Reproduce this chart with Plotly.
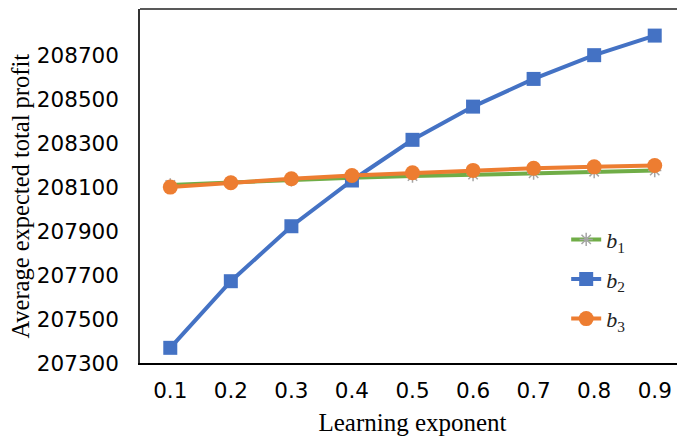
import plotly.graph_objects as go

exponents = ["0.1", "0.2", "0.3", "0.4", "0.5", "0.6", "0.7", "0.8", "0.9"]
b1_profit = [208110, 208122, 208133, 208143, 208150, 208157, 208163, 208170, 208175]
b2_profit = [207369, 207672, 207922, 208130, 208315, 208466, 208592, 208700, 208789]
b3_profit = [208100, 208120, 208138, 208153, 208165, 208176, 208186, 208192, 208198]
y_ticks = [207300, 207500, 207700, 207900, 208100, 208300, 208500, 208700, 208900]

fig = go.Figure()

fig.add_trace(go.Scatter(
    x=exponents, y=b1_profit, mode="lines+markers",
    name="<i>b</i><sub>1</sub>", legendgroup="b1",
    line=dict(color="#70AD47", width=4),
    marker=dict(symbol="asterisk-open", size=11, color="#A5A5A5",
                line=dict(color="#A5A5A5", width=1.5))
))
fig.add_trace(go.Scatter(
    x=exponents, y=b2_profit, mode="lines+markers",
    name="<i>b</i><sub>2</sub>", legendgroup="b2",
    line=dict(color="#4472C4", width=4),
    marker=dict(symbol="square", size=14, color="#4472C4")
))
fig.add_trace(go.Scatter(
    x=exponents, y=b3_profit, mode="lines+markers",
    name="<i>b</i><sub>3</sub>", legendgroup="b3",
    line=dict(color="#ED7D31", width=4),
    marker=dict(symbol="circle", size=15, color="#ED7D31")
))

# top border of the plot frame
fig.add_shape(type="line", xref="paper", yref="paper", x0=0, x1=1, y0=1, y1=1,
              line=dict(color="#595959", width=2))

# y-axis title as an annotation so it can sit where the original has it
fig.add_annotation(text="Average expected total profit", textangle=-90,
                   xref="paper", yref="paper", x=-0.219, y=0.472,
                   xanchor="center", yanchor="middle", showarrow=False,
                   font=dict(family="Liberation Serif", size=24.5, color="black"))

fig.update_layout(
    width=685, height=437,
    margin=dict(l=132, r=8, t=1, b=82),
    plot_bgcolor="white", paper_bgcolor="white",
    showlegend=True,
    legend=dict(x=0.782, y=0.237, xanchor="left", yanchor="middle",
                font=dict(family="Liberation Serif", size=22, color="#222"),
                tracegroupgap=8, bgcolor="rgba(0,0,0,0)"),
    xaxis=dict(
        type="category", range=[-0.5, 8.5], automargin=False,
        showline=True, linecolor="black", linewidth=2,
        showgrid=False, ticks="", ticklabelstandoff=7,
        tickfont=dict(family="DejaVu Sans", size=21.5, color="black"),
        title=dict(text="Learning exponent", standoff=12,
                   font=dict(family="Liberation Serif", size=25, color="black"))
    ),
    yaxis=dict(
        range=[207300, 208910], tickvals=y_ticks,
        ticktext=[str(v) for v in y_ticks], automargin=False,
        showline=True, linecolor="#333333", linewidth=1.5,
        showgrid=False, zeroline=False, ticks="", ticklabelstandoff=15,
        tickfont=dict(family="DejaVu Sans", size=21.5, color="black")
    )
)

fig.write_html("out.html")
